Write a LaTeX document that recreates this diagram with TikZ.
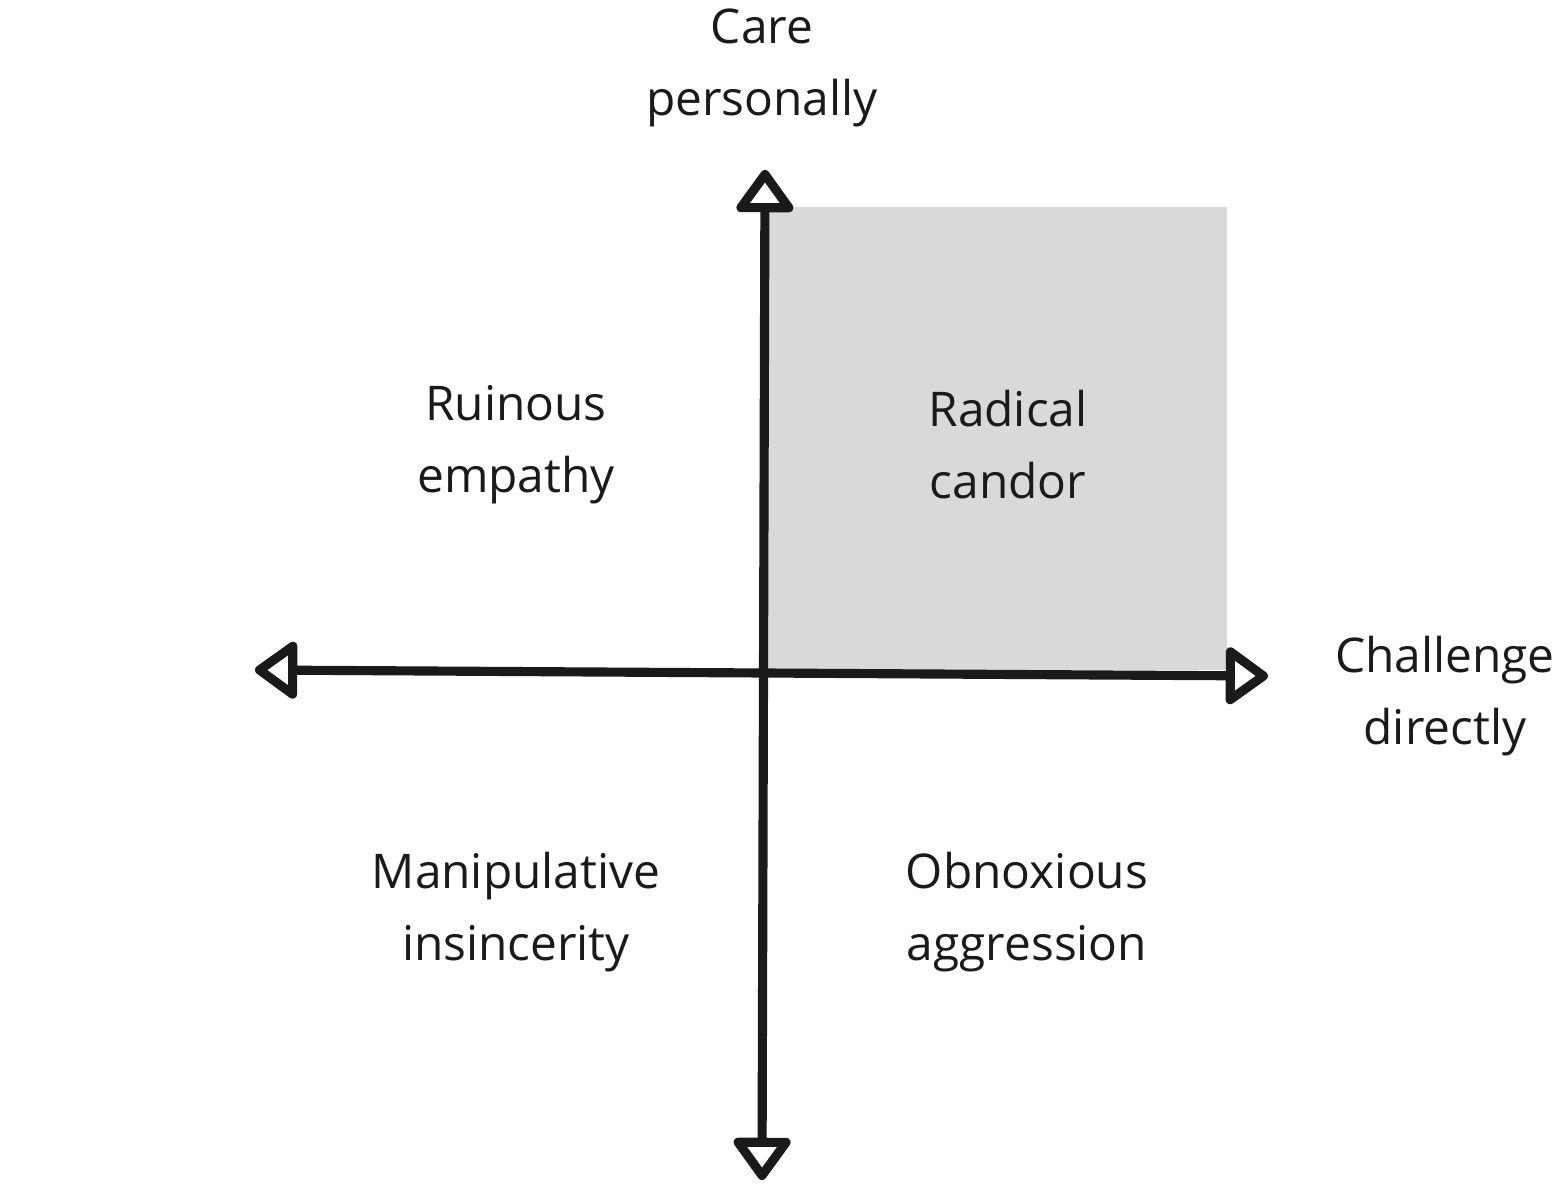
\documentclass[tikz,border=0pt]{standalone}
\usepackage{fontspec}
\setmainfont{Open Sans}
\usetikzlibrary{positioning,arrows.meta}
\definecolor{quad}{HTML}{D9D9D9}
\definecolor{ink}{HTML}{1A1A1A}

\begin{document}
\begin{tikzpicture}[x=0.01cm, y=-0.01cm,
  axis/.style={draw=ink, line width=2.6pt, line join=round,
               {Triangle[open, length=13pt, width=18pt, line join=round]}-{Triangle[open, length=13pt, width=18pt, line join=round]}},
  lab/.style={align=center, inner sep=0, text=ink,
              font=\fontsize{13.6}{20.5}\selectfont}]
\useasboundingbox (0,0) rectangle (1556,1186);
% shaded quadrant
\fill[quad] (768,207) rectangle (1227,670);
% axis ends
\coordinate (top) at (765,170);
\coordinate (bottom) at (762,1180);
\coordinate (left) at (255,670);
\coordinate (right) at (1268,676);
\draw[axis] (bottom) -- (top);
\draw[axis] (left) -- (right);
% axis labels
\node[lab] (care) at (762,68) {Care\\personally};
\node[lab] (challenge) at (1445,696) {Challenge\\directly};
% quadrant labels
\node[lab] (ruinous) at (516,445) {Ruinous\\empathy};
\node[lab] (radical) at (1008,445) {Radical\\candor};
\node[lab] (manip) at (516,912) {Manipulative\\insincerity};
\node[lab] (obnox) at (1027,912) {Obnoxious\\aggression};
\end{tikzpicture}
\end{document}
